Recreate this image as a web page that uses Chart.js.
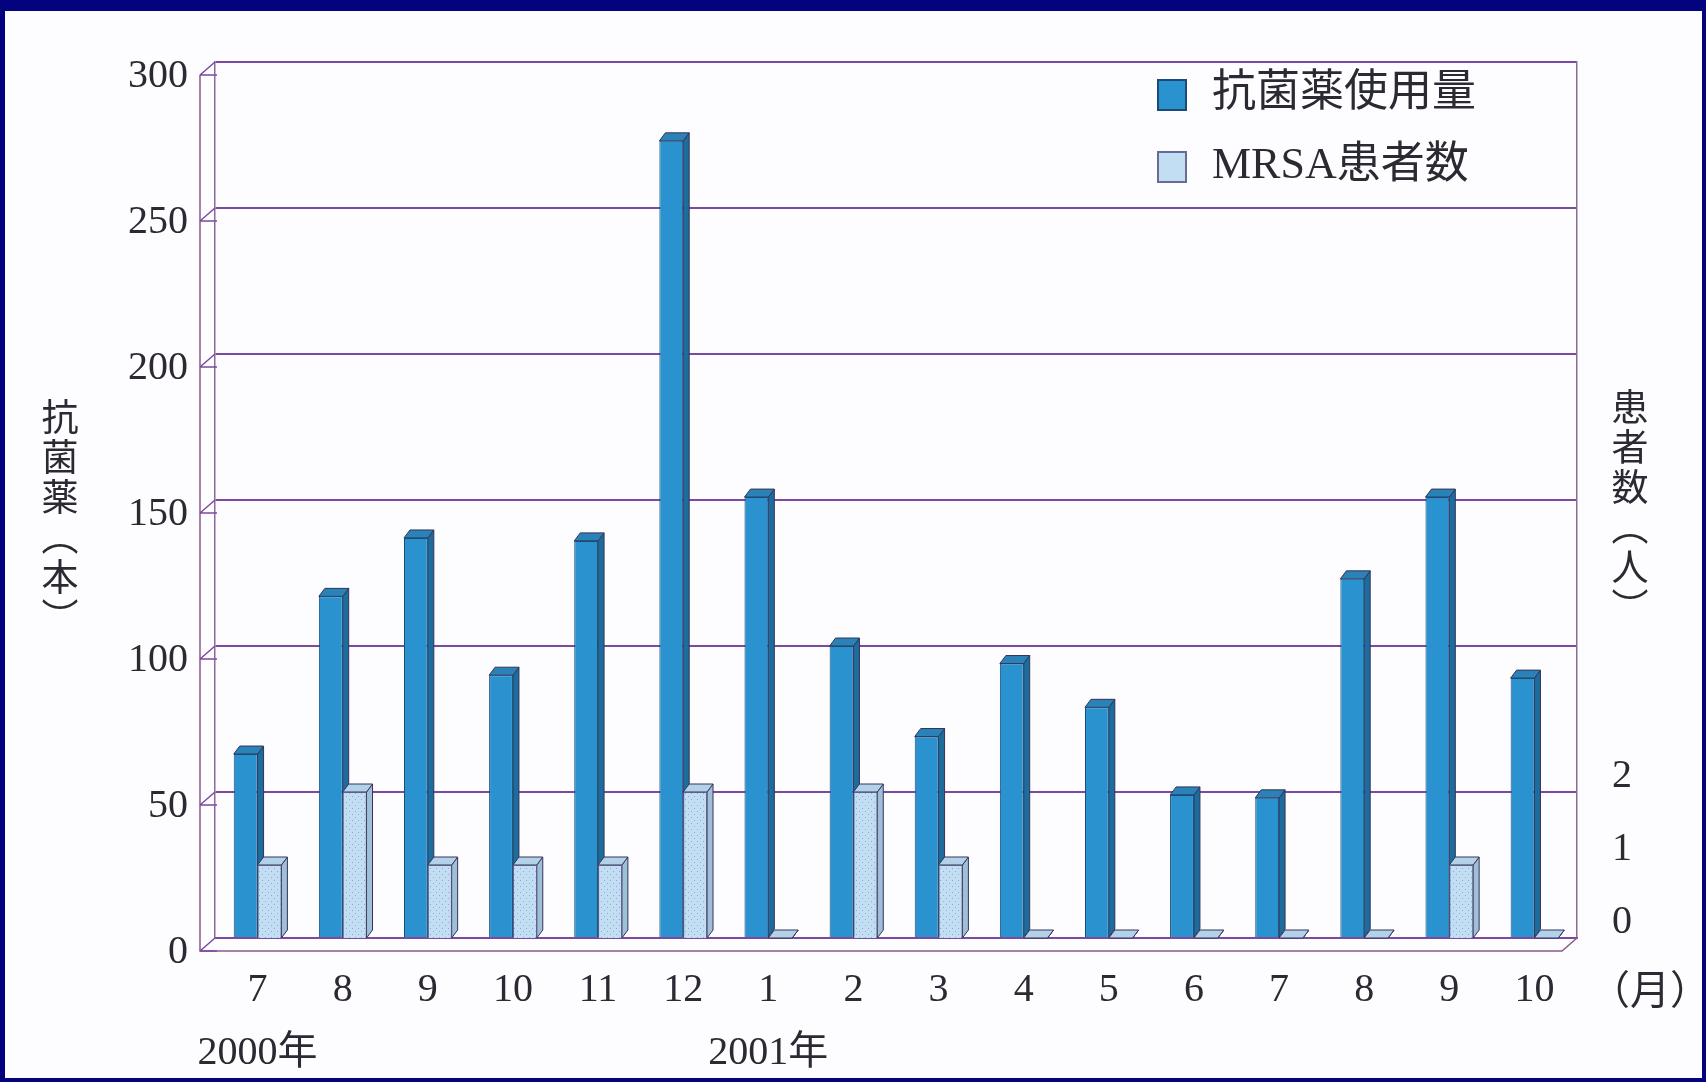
<!DOCTYPE html>
<html lang="ja">
<head>
<meta charset="utf-8">
<title>抗菌薬使用量とMRSA患者数</title>
<script src="https://cdn.jsdelivr.net/npm/chart.js@4.4.1/dist/chart.umd.min.js"></script>
<style>
  html, body { margin: 0; padding: 0; }
  body { width: 1706px; height: 1082px; background: #03037e; position: relative; overflow: hidden; }
  #panel { position: absolute; left: 5px; top: 11px; width: 1697px; height: 1067px; background: #fdfdff; }
  #lienzo { position: absolute; left: 0; top: 0; }
  .txt { position: absolute; color: #2a2a33; font-family: 'Liberation Serif', 'Noto Sans CJK JP', serif; white-space: nowrap; }
  .vert { writing-mode: vertical-rl; font-family: 'Noto Sans CJK JP', serif; font-size: 37px; line-height: 1; letter-spacing: 3px; }
  .leyenda { font-size: 44px; line-height: 1; }
  .caja { position: absolute; width: 30px; height: 32px; box-sizing: border-box; }
</style>
</head>
<body>
<div id="panel"></div>
<canvas id="lienzo" width="1706" height="1082"></canvas>

<!-- títulos de ejes, leyenda y unidad del eje x -->
<div class="txt vert" id="tituloIzq" style="left:41px; top:398px;"></div>
<div class="txt vert" id="tituloDer" style="left:1611px; top:388px;"></div>
<div class="txt" id="unidadMes" style="left:1590px; top:958px; font-size:40px;"></div>
<div id="leyenda"></div>

<script>
// datos (meses jul 2000 - oct 2001)
const meses = ['7', '8', '9', '10', '11', '12', '1', '2', '3', '4', '5', '6', '7', '8', '9', '10'];
const anios = ['2000年', '', '', '', '', '', '2001年', '', '', '', '', '', '', '', '', ''];
const antibioticos = [63, 117, 137, 90, 136, 273, 151, 100, 69, 94, 79, 49, 48, 123, 151, 89]; // 本
const pacientesMRSA = [1, 2, 1, 1, 1, 2, 0, 2, 1, 0, 0, 0, 0, 0, 1, 0]; // 人
const ticksIzq = [0, 50, 100, 150, 200, 250, 300];
const ticksDer = [0, 1, 2];

const nombreSerie1 = '抗菌薬使用量';
const nombreSerie2 = 'MRSA患者数';
const tituloIzq = '抗菌薬（本）';
const tituloDer = '患者数（人）';
const unidadMes = '（月）';

document.getElementById('tituloIzq').textContent = tituloIzq;
document.getElementById('tituloDer').textContent = tituloDer;
document.getElementById('unidadMes').textContent = unidadMes;

// patrón punteado para las barras de MRSA
function patronPuntos() {
  const c = document.createElement('canvas');
  c.width = 6; c.height = 6;
  const g = c.getContext('2d');
  g.fillStyle = '#c2def2';
  g.fillRect(0, 0, 6, 6);
  g.fillStyle = '#93a6d6';
  g.fillRect(1, 1, 1, 1);
  g.fillRect(4, 4, 1, 1);
  return g.createPattern(c, 'repeat');
}
const rellenoMRSA = patronPuntos();

// leyenda en HTML
const leyenda = document.getElementById('leyenda');
[[nombreSerie1, '#2a93cf', '#1b4a78', 79], [nombreSerie2, '#c2def2', '#6a6a96', 151]].forEach(([txt, fondo, borde, y]) => {
  const caja = document.createElement('div');
  caja.className = 'caja';
  caja.style.left = '1157px';
  caja.style.top = y + 'px';
  caja.style.background = fondo;
  caja.style.border = '2px solid ' + borde;
  leyenda.appendChild(caja);
  const t = document.createElement('div');
  t.className = 'txt leyenda';
  t.style.left = '1212px';
  t.style.top = (y - 9) + 'px';
  t.textContent = txt;
  leyenda.appendChild(t);
});

const DX = 6, DY = 8; // profundidad del efecto 3D

// caras laterales y tapas de cada barra (antes de dibujar el frente)
const efecto3D = {
  id: 'efecto3D',
  beforeDatasetsDraw(chart) {
    const ctx = chart.ctx;
    const colores = [['#1d6c9e', '#2a82b6'], ['#9fbfd8', '#b3d2ea']];
    chart.data.datasets.forEach((ds, i) => {
      const meta = chart.getDatasetMeta(i);
      meta.data.forEach(bar => {
        const l = bar.x - bar.width / 2, r = bar.x + bar.width / 2;
        const top = Math.min(bar.y, bar.base), bot = Math.max(bar.y, bar.base);
        ctx.save();
        ctx.strokeStyle = '#34345a';
        ctx.lineWidth = 1;
        // lateral
        ctx.fillStyle = colores[i][0];
        ctx.beginPath();
        ctx.moveTo(r, top); ctx.lineTo(r + DX, top - DY); ctx.lineTo(r + DX, bot - DY); ctx.lineTo(r, bot);
        ctx.closePath(); ctx.fill(); ctx.stroke();
        // tapa
        ctx.fillStyle = colores[i][1];
        ctx.beginPath();
        ctx.moveTo(l, top); ctx.lineTo(l + DX, top - DY); ctx.lineTo(r + DX, top - DY); ctx.lineTo(r, top);
        ctx.closePath(); ctx.fill(); ctx.stroke();
        ctx.restore();
      });
    });
  }
};

// marco en perspectiva: eje frontal izquierdo y borde inferior
const marco3D = {
  id: 'marco3D',
  beforeDatasetsDraw(chart) {
    const { ctx, chartArea: a } = chart;
    const fx = 15, fy = 13;
    const y = chart.scales.y;
    ctx.save();
    ctx.lineWidth = 1.5;
    ctx.strokeStyle = '#8a5a8a';
    ctx.beginPath();
    ctx.moveTo(a.left - fx, a.top + fy); ctx.lineTo(a.left - fx, a.bottom + fy);
    ctx.lineTo(a.right - fx, a.bottom + fy); ctx.lineTo(a.right, a.bottom);
    ctx.stroke();
    ticksIzq.forEach(v => {
      const py = y.getPixelForValue(v);
      ctx.strokeStyle = '#7a4aa0';
      ctx.beginPath();
      ctx.moveTo(a.left - fx, py + fy); ctx.lineTo(a.left, py);
      ctx.moveTo(a.left - fx, py + fy); ctx.lineTo(a.left + 2, py + fy);
      ctx.stroke();
    });
    ctx.restore();
  }
};

const fuenteNum = "'Liberation Serif', 'Noto Sans CJK JP', serif";

new Chart(document.getElementById('lienzo'), {
  type: 'bar',
  data: {
    labels: meses,
    datasets: [
      {
        label: nombreSerie1,
        data: antibioticos,
        yAxisID: 'y',
        backgroundColor: '#2a93cf',
        borderColor: '#1b4a78',
        borderWidth: 1,
        categoryPercentage: 0.56,
        barPercentage: 1.0
      },
      {
        label: nombreSerie2,
        data: pacientesMRSA,
        yAxisID: 'y2',
        backgroundColor: rellenoMRSA,
        borderColor: '#5e5e8c',
        borderWidth: 1,
        categoryPercentage: 0.56,
        barPercentage: 1.0
      }
    ]
  },
  options: {
    responsive: false,
    animation: false,
    devicePixelRatio: 1,
    layout: { padding: { top: 62, left: 0, right: 0, bottom: 0 } },
    plugins: {
      legend: { display: false },
      tooltip: { enabled: false }
    },
    scales: {
      x: {
        grid: { display: false, drawTicks: false },
        border: { display: true, color: '#7a4aa0', width: 2 },
        ticks: {
          color: '#2a2a33',
          padding: 21,
          font: { family: fuenteNum, size: 40, lineHeight: 1.58 },
          maxRotation: 0,
          autoSkip: false,
          callback: (v, i) => anios[i] ? [meses[i], anios[i]] : meses[i]
        },
        afterFit: s => { s.height = 1082 - 938; }
      },
      y: {
        position: 'left',
        min: 0,
        max: 300,
        afterBuildTicks: s => { s.ticks = ticksIzq.map(v => ({ value: v })); },
        grid: { color: '#7a4aa0', lineWidth: 2, drawTicks: false },
        border: { display: true, color: '#8a6a9a', width: 1.5 },
        ticks: {
          color: '#2a2a33',
          padding: 27,
          labelOffset: 14,
          font: { family: fuenteNum, size: 40 }
        },
        afterFit: s => { s.width = 215; }
      },
      y2: {
        position: 'right',
        min: 0,
        max: 12,
        afterBuildTicks: s => { s.ticks = ticksDer.map(v => ({ value: v })); },
        grid: { display: false, drawTicks: false },
        border: { display: true, color: '#8a6a9a', width: 1.5 },
        ticks: {
          color: '#2a2a33',
          padding: 35,
          labelOffset: -16,
          font: { family: fuenteNum, size: 40 }
        },
        afterFit: s => { s.width = 1706 - 1577; }
      }
    }
  },
  plugins: [marco3D, efecto3D]
});
</script>
</body>
</html>
